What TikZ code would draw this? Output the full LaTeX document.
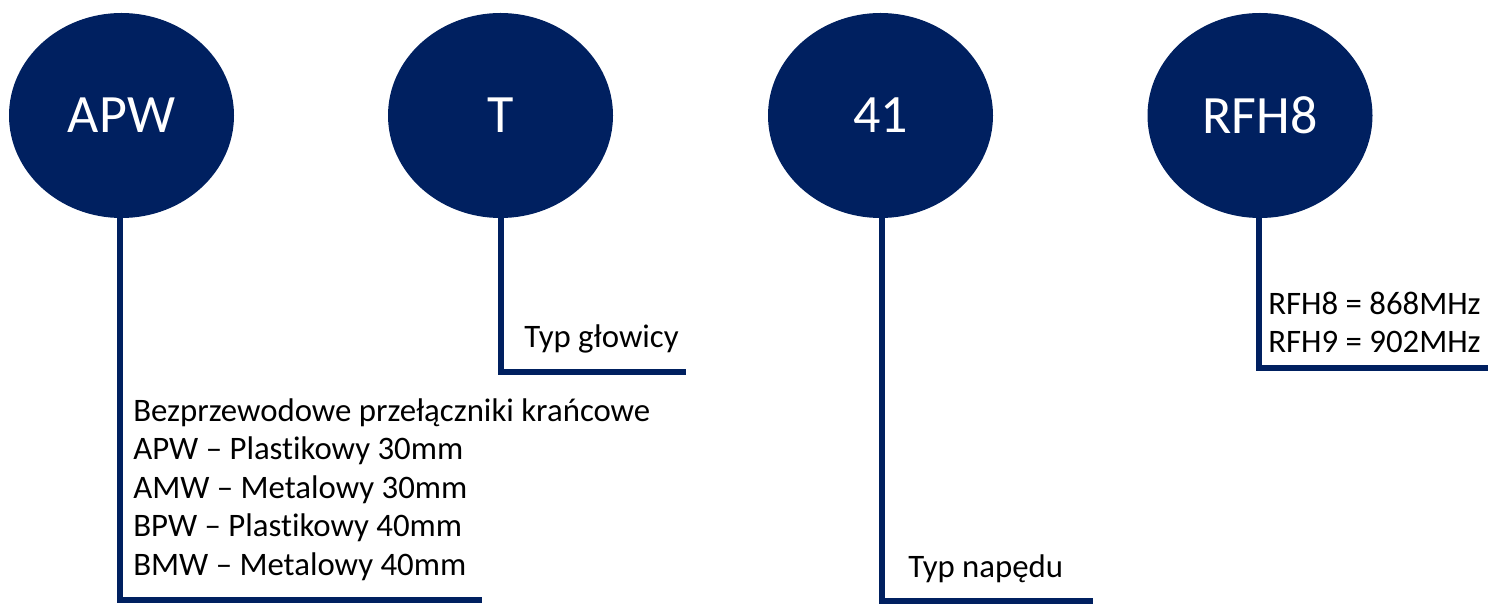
\documentclass[tikz,border=0pt]{standalone}
\usepackage{fontspec}
\setmainfont{Carlito}[Ligatures={NoCommon}]
\usetikzlibrary{shapes.geometric}
\definecolor{navy}{HTML}{002060}
\begin{document}
\begin{tikzpicture}[x=0.75pt,y=-0.75pt,
  code/.style={ellipse,fill=navy,text=white,minimum width=225*0.75pt,minimum height=205*0.75pt,inner sep=0pt,font=\fontsize{40.5pt}{48pt}\selectfont},
  leader/.style={draw=navy,line width=3.8pt},
  desc/.style={anchor=base west,inner sep=0pt,text=black,font=\fontsize{24.6pt}{28.9pt}\selectfont,align=left}]
\useasboundingbox (0,0) rectangle (1488,605);
% code segments
\node[code] (apw) at (121.5,115.5) {APW};
\node[code] (t) at (500.5,115.5) {T};
\node[code] (n41) at (880.5,115.5) {41};
\node[code] (rfh) at (1260,115.5) {RFH8};
% leader line corners and ends
\coordinate (apwc) at (120,600);  \coordinate (apwe) at (482,600);
\coordinate (tc) at (501,372);    \coordinate (te) at (686,372);
\coordinate (nc) at (882,601);    \coordinate (ne) at (1093,601);
\coordinate (rc) at (1259,368);   \coordinate (re) at (1488,368);
\draw[leader] (apw.south -| apwc) -- (apwc) -- (apwe);
\draw[leader] (t.south -| tc) -- (tc) -- (te);
\draw[leader] (n41.south -| nc) -- (nc) -- (ne);
\draw[leader] (rfh.south -| rc) -- (rc) -- (re);
% descriptions (multi-line nodes sit on the baseline of their last line)
\node[desc] (apwd) at (133,575.5) {Bezprzewodowe przełączniki krańcowe\\APW – Plastikowy 30mm\\AMW – Metalowy 30mm\\BPW – Plastikowy 40mm\\BMW – Metalowy 40mm};
\node[desc] (td) at (524,348) {Typ głowicy};
\node[desc] (nd) at (908,577) {Typ napędu};
\node[desc] (rd) at (1268,353) {RFH8 = 868MHz\\RFH9 = 902MHz};
\end{tikzpicture}
\end{document}
